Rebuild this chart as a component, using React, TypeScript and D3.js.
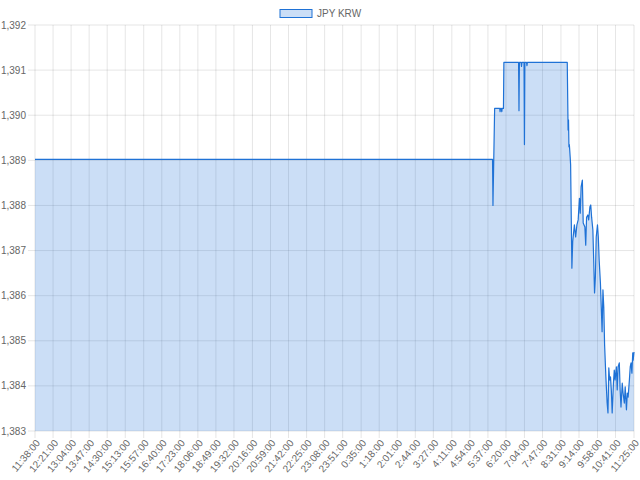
import React from "react";
import * as d3 from "d3";

// minutes since 11:38:00 and the JPY KRW value at that time
const times: number[] = [
  0, 1090, 1091, 1095, 1107, 1108, 1109, 1111, 1112, 1113, 1116, 1117,
  1152, 1153, 1154, 1155, 1158, 1159, 1160, 1165, 1166, 1167, 1171, 1172, 1173, 1268,
  1270, 1271, 1272, 1273, 1275, 1276, 1279, 1281, 1285, 1288, 1291, 1294, 1297, 1299,
  1301, 1304, 1306, 1310, 1312, 1314, 1317, 1319, 1322, 1324, 1326, 1329, 1331, 1333,
  1335, 1337, 1340, 1342, 1344, 1347, 1349, 1351, 1353, 1355, 1357, 1360, 1363, 1365,
  1367, 1369, 1371, 1373, 1375, 1378, 1380, 1382, 1385, 1387, 1389, 1392, 1394, 1396,
  1399, 1401, 1404, 1406, 1409, 1411, 1413, 1416, 1418, 1420, 1422, 1424, 1425, 1427,
];
const values: number[] = [
  1389.02, 1389.02, 1388.0, 1390.15, 1390.15, 1390.08, 1390.15, 1390.15, 1390.08, 1390.15, 1390.15, 1391.17,
  1391.17, 1390.1, 1391.17, 1391.17, 1391.17, 1391.08, 1391.17, 1391.17, 1389.35, 1391.17, 1391.17, 1391.1, 1391.17, 1391.17,
  1389.67, 1389.9, 1389.3, 1389.35, 1389.07, 1388.9, 1386.61, 1387.2, 1387.57, 1387.3, 1387.57, 1387.68, 1388.16, 1387.83,
  1388.41, 1388.56, 1387.61, 1387.52, 1387.12, 1387.74, 1387.79, 1387.68, 1387.97, 1388.01, 1387.74, 1387.46, 1386.79, 1386.06,
  1386.41, 1387.3, 1387.57, 1387.3, 1386.79, 1386.28, 1385.75, 1385.2, 1386.13, 1385.75, 1384.9, 1384.2, 1383.62, 1383.4,
  1384.4, 1384.13, 1384.2, 1383.91, 1383.4, 1384.06, 1384.35, 1384.13, 1384.42, 1383.91, 1384.42, 1384.51, 1383.91, 1383.53,
  1384.06, 1383.84, 1383.62, 1383.98, 1383.47, 1383.84, 1383.75, 1384.13, 1384.42, 1384.51, 1384.28, 1384.73, 1384.57, 1384.75,
];

const xLabels: string[] = [
  "11:38:00", "12:21:00", "13:04:00", "13:47:00", "14:30:00", "15:13:00", "15:57:00",
  "16:40:00", "17:23:00", "18:06:00", "18:49:00", "19:32:00", "20:16:00", "20:59:00",
  "21:42:00", "22:25:00", "23:08:00", "23:51:00", "0:35:00", "1:18:00", "2:01:00",
  "2:44:00", "3:27:00", "4:11:00", "4:54:00", "5:37:00", "6:20:00", "7:04:00",
  "7:47:00", "8:31:00", "9:14:00", "9:58:00", "10:41:00", "11:25:00",
];
const yTicks: number[] = [1383, 1384, 1385, 1386, 1387, 1388, 1389, 1390, 1391, 1392];
const seriesName = "JPY KRW";

const START = 11 * 60 + 38;
const labelMinute = (s: string) => {
  const [h, m] = s.split(":").map(Number);
  return (h * 60 + m - START + 1440) % 1440;
};

const W = 640, H = 480;
const L = 35, R = 634, T = 25, B = 431;
const FONT = "'Liberation Sans', Arial, Helvetica, sans-serif";
const LINE = "#1f72d6";
const FILL = "rgba(31,114,214,0.23)";

export default function App() {
  const x = d3.scaleLinear().domain([0, 1427]).range([L, R]);
  const y = d3.scaleLinear().domain([1383, 1392]).range([B, T]);
  const pts: [number, number][] = times.map((t, i) => [t, values[i]]);
  const line = d3.line<[number, number]>().x(d => x(d[0])).y(d => y(d[1]));
  const area = d3.area<[number, number]>().x(d => x(d[0])).y0(B).y1(d => y(d[1]));
  const fmt = d3.format(",");

  return (
    <svg width={W} height={H} style={{ position: "absolute", left: 0, top: 0, background: "#fff" }} fontFamily={FONT}>
      {yTicks.map(v => (
        <g key={"y" + v}>
          <line x1={L - 7} x2={R} y1={y(v)} y2={y(v)} stroke="rgba(0,0,0,0.1)" />
          <text x={L - 9} y={y(v)} dy="0.35em" textAnchor="end" fontSize={10} fill="#666">{fmt(v)}</text>
        </g>
      ))}
      {xLabels.map(s => {
        const px = x(labelMinute(s));
        return (
          <g key={"x" + s}>
            <line x1={px} x2={px} y1={T} y2={B + 7} stroke="rgba(0,0,0,0.1)" />
            <text transform={`translate(${px + 3},${B + 10}) rotate(-50)`} textAnchor="end" dy="0.35em" fontSize={10} fill="#666">{s}</text>
          </g>
        );
      })}
      <path d={area(pts) || ""} fill={FILL} stroke="none" />
      <path d={line(pts) || ""} fill="none" stroke={LINE} strokeWidth={1.2} strokeLinejoin="round" />
      <rect x={280} y={9.5} width={32} height={8} fill={FILL} stroke={LINE} strokeWidth={1} />
      <text x={317} y={13.5} dy="0.35em" fontSize={10} fill="#666">{seriesName}</text>
    </svg>
  );
}
